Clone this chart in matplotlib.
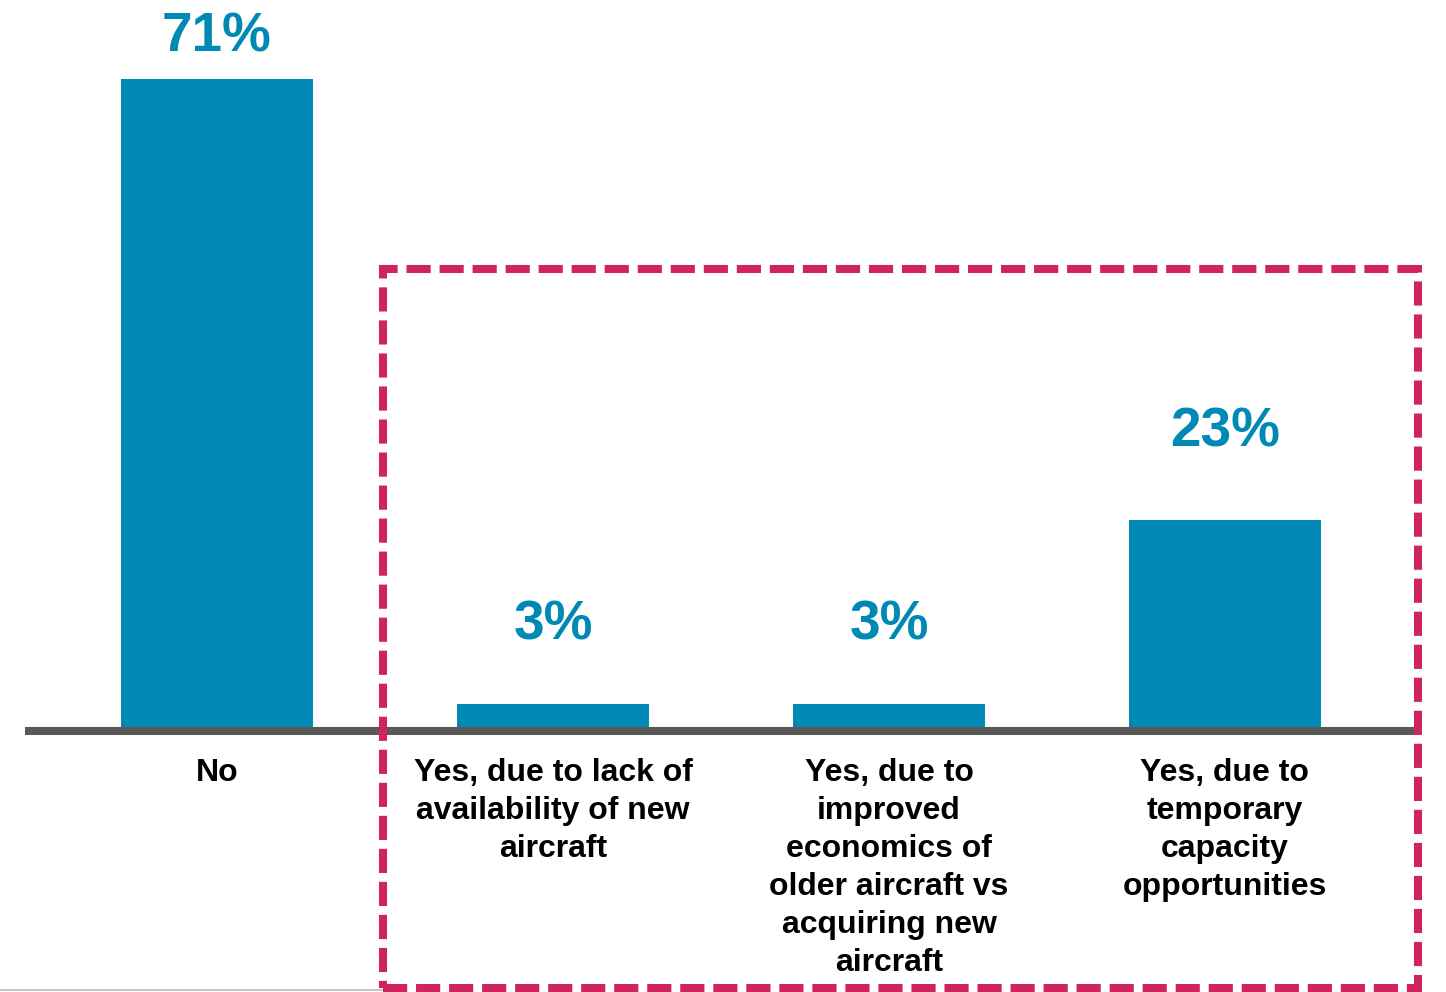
import matplotlib.pyplot as plt
from matplotlib.patches import Rectangle

categories = ["No",
              "Yes, due to lack of\navailability of new\naircraft",
              "Yes, due to\nimproved\neconomics of\nolder aircraft vs\nacquiring new\naircraft",
              "Yes, due to\ntemporary\ncapacity\nopportunities"]
values = [71, 3, 3, 23]
value_labels = ["71%", "3%", "3%", "23%"]

bar_color = "#0089b4"
dash_color = "#d0245e"

plt.rcParams['font.family'] = ['Liberation Sans', 'DejaVu Sans']

fig = plt.figure(figsize=(14.46, 9.92), dpi=100)
ax = fig.add_axes([0, 0, 1, 1])
ax.set_xlim(-0.646, 3.658)
ax.set_ylim(-28.4, 79.6)
ax.axis('off')

x = range(len(values))
ax.bar(x, values, width=0.571, color=bar_color, zorder=2)

# baseline
ax.plot([-0.571, 3.574], [0, 0], color="#595959", lw=5.8, solid_capstyle='butt', zorder=3)

label_gap = [3, 7, 7, 8]
for i, v in enumerate(values):
    ax.text(i, v + label_gap[i], value_labels[i], ha='center', va='baseline',
            fontsize=39.5, fontweight='bold', color=bar_color)
    ax.text(i, -2.9, categories[i], ha='center', va='top', fontsize=23,
            fontweight='bold', color="black", linespacing=1.35)

# dashed box around the "Yes" answers
box = Rectangle((383 / 1446, 4 / 992), 1035 / 1446, 719 / 992, transform=fig.transFigure,
                fill=False, edgecolor=dash_color, lw=5.8, linestyle=(0, (3, 1.1)), zorder=4)
fig.patches.append(box)

# thin rule at the bottom left
fig.add_artist(plt.Line2D([0, 385 / 1446], [2 / 992, 2 / 992], transform=fig.transFigure,
                          color="#c8c8c8", lw=1.5))

fig.savefig("out.png", dpi=100)
